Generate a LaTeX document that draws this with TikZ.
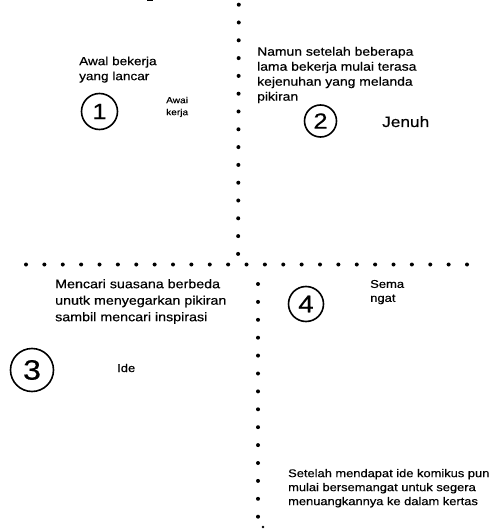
\documentclass[tikz,border=0pt]{standalone}
\usepackage{fontspec}
\setmainfont[FakeStretch=1.15,FakeBold=0.4]{Liberation Sans}
\newcommand{\fs}[2]{\fontsize{#1}{#2}\selectfont}
\tikzset{
  dotmark/.style={fill=black},
  numcirc/.style={draw, circle, line width=1.6pt, inner sep=0pt},
  note/.style={inner sep=0pt, align=left, anchor=north west},
  word/.style={inner sep=0pt, anchor=base west}
}
\begin{document}
\begin{tikzpicture}[x=1pt,y=-1pt]
\useasboundingbox[fill=white] (0,0) rectangle (491,529);
% dotted dividers
\foreach \i in {0,...,14}{\fill[dotmark] (238.8-0.05*\i,4.7+17.8*\i) circle (2);}
\foreach \i in {0,...,24}{\fill[dotmark] (26+18.375*\i,264.5) circle (2);}
\foreach \i in {0,...,13}{\fill[dotmark] (258,284+17.9*\i) circle (2);}
\fill[dotmark] (263,527) circle (1.4);
\fill[dotmark] (146.5,0) rectangle (153,1.4);
% quadrant 1
\node[note, font={\fs{11.8}{15}}] (t1) at (79,56.4) {Awal bekerja\\yang lancar};
\node[numcirc, minimum size=36pt, font={\fs{22}{22}}] (c1) at (99.5,111.5) {1};
\node[note, font={\fs{8.8}{12}}] (w1) at (166,96.6) {Awai\\kerja};
% quadrant 2
\node[note, font={\fs{12.1}{15}}] (t2) at (257,46.7) {Namun setelah beberapa\\lama bekerja mulai terasa\\kejenuhan yang melanda\\pikiran};
\node[numcirc, minimum size=32pt, font={\fs{22}{22}}] (c2) at (320.5,121) {2};
\node[word, font={\fs{15}{15}}] (w2) at (382,127) {Jenuh};
% quadrant 3
\node[note, font={\fs{12.4}{16.5}}] (t3) at (55,279) {Mencari suasana berbeda\\unutk menyegarkan pikiran\\sambil mencari inspirasi};
\node[numcirc, minimum size=43pt, font={\fs{28}{28}}] (c3) at (32,370) {3};
\node[word, font={\fs{11.3}{14}}] (w3) at (117,372) {Ide};
% quadrant 4
\node[numcirc, minimum size=35pt, font={\fs{24}{24}}] (c4) at (306,304) {4};
\node[note, font={\fs{11.3}{14}}] (w4) at (370,279.8) {Sema\\ngat};
\node[note, font={\fs{11.2}{14}}] (t4) at (288,468.8) {Setelah mendapat ide komikus pun\\mulai bersemangat untuk segera\\menuangkannya ke dalam kertas};
\end{tikzpicture}
\end{document}
